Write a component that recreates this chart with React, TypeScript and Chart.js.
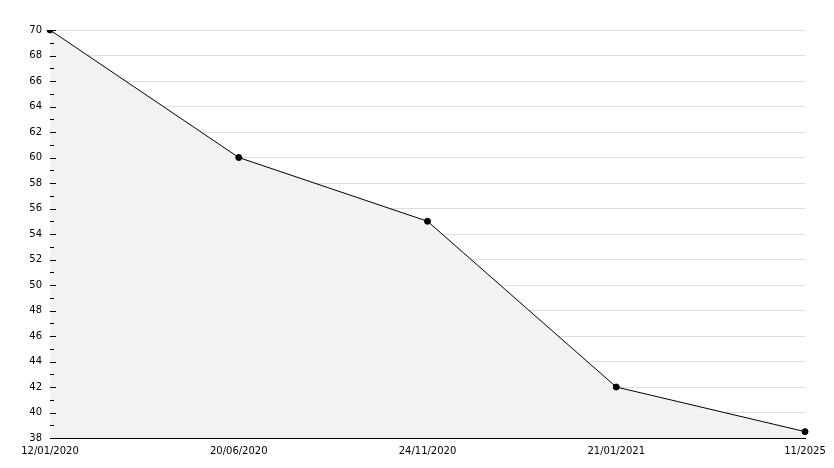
import React, { useEffect, useRef } from "react";
import { Chart, registerables } from "chart.js";

Chart.register(...registerables);

const categories = ["12/01/2020", "20/06/2020", "24/11/2020", "21/01/2021", "11/2025"];
const values = [70, 60, 55, 42, 38.5];
const yMin = 38;
const yMax = 70;
const yStep = 2;
const minorStep = 1;

const insideTicks = {
  id: "insideTicks",
  afterDatasetsDraw(chart: any) {
    const y = chart.scales.y;
    const ctx = chart.ctx;
    const left = chart.chartArea.left;
    ctx.save();
    ctx.strokeStyle = "#000";
    ctx.lineWidth = 1;
    for (let v = yMin; v <= yMax; v += minorStep) {
      const py = Math.round(y.getPixelForValue(v)) + 0.5;
      const len = (v - yMin) % yStep === 0 ? 6 : 4;
      ctx.beginPath();
      ctx.moveTo(left, py);
      ctx.lineTo(left + len, py);
      ctx.stroke();
    }
    ctx.restore();
  },
};

export default function App() {
  const ref = useRef<HTMLCanvasElement>(null);
  useEffect(() => {
    if (!ref.current) return;
    const font = { family: "DejaVu Sans", size: 10 };
    const chart = new Chart(ref.current, {
      type: "line",
      data: {
        labels: categories,
        datasets: [
          {
            data: values,
            borderColor: "#000",
            borderWidth: 1,
            backgroundColor: "#f2f2f2",
            fill: "start",
            pointRadius: 3,
            pointBackgroundColor: "#000",
            pointBorderColor: "#000",
            pointStyle: "circle",
            tension: 0,
          },
        ],
      },
      options: {
        animation: false,
        responsive: false,
        maintainAspectRatio: false,
        layout: { padding: { top: 30, right: 29, left: 0, bottom: 0 } },
        plugins: { legend: { display: false }, tooltip: { enabled: false } },
        scales: {
          x: {
            type: "category",
            offset: false,
            grid: { display: false, drawTicks: false },
            border: { color: "#000", width: 1 },
            ticks: { color: "#000", font, padding: 7, maxRotation: 0, autoSkip: false },
            afterFit: (s: any) => { s.height = 30; },
          },
          y: {
            min: yMin,
            max: yMax,
            grid: { color: "#dddddd", drawTicks: false, lineWidth: 1 },
            border: { color: "#000", width: 1 },
            ticks: { stepSize: yStep, color: "#000", font, padding: 8 },
            afterFit: (s: any) => { s.width = 50; },
          },
        },
      },
      plugins: [insideTicks],
    });
    return () => chart.destroy();
  }, []);
  return (
    <div style={{ position: "absolute", left: 0, top: 0, width: 834, height: 468, background: "#fff" }}>
      <canvas ref={ref} width={834} height={468} />
    </div>
  );
}
